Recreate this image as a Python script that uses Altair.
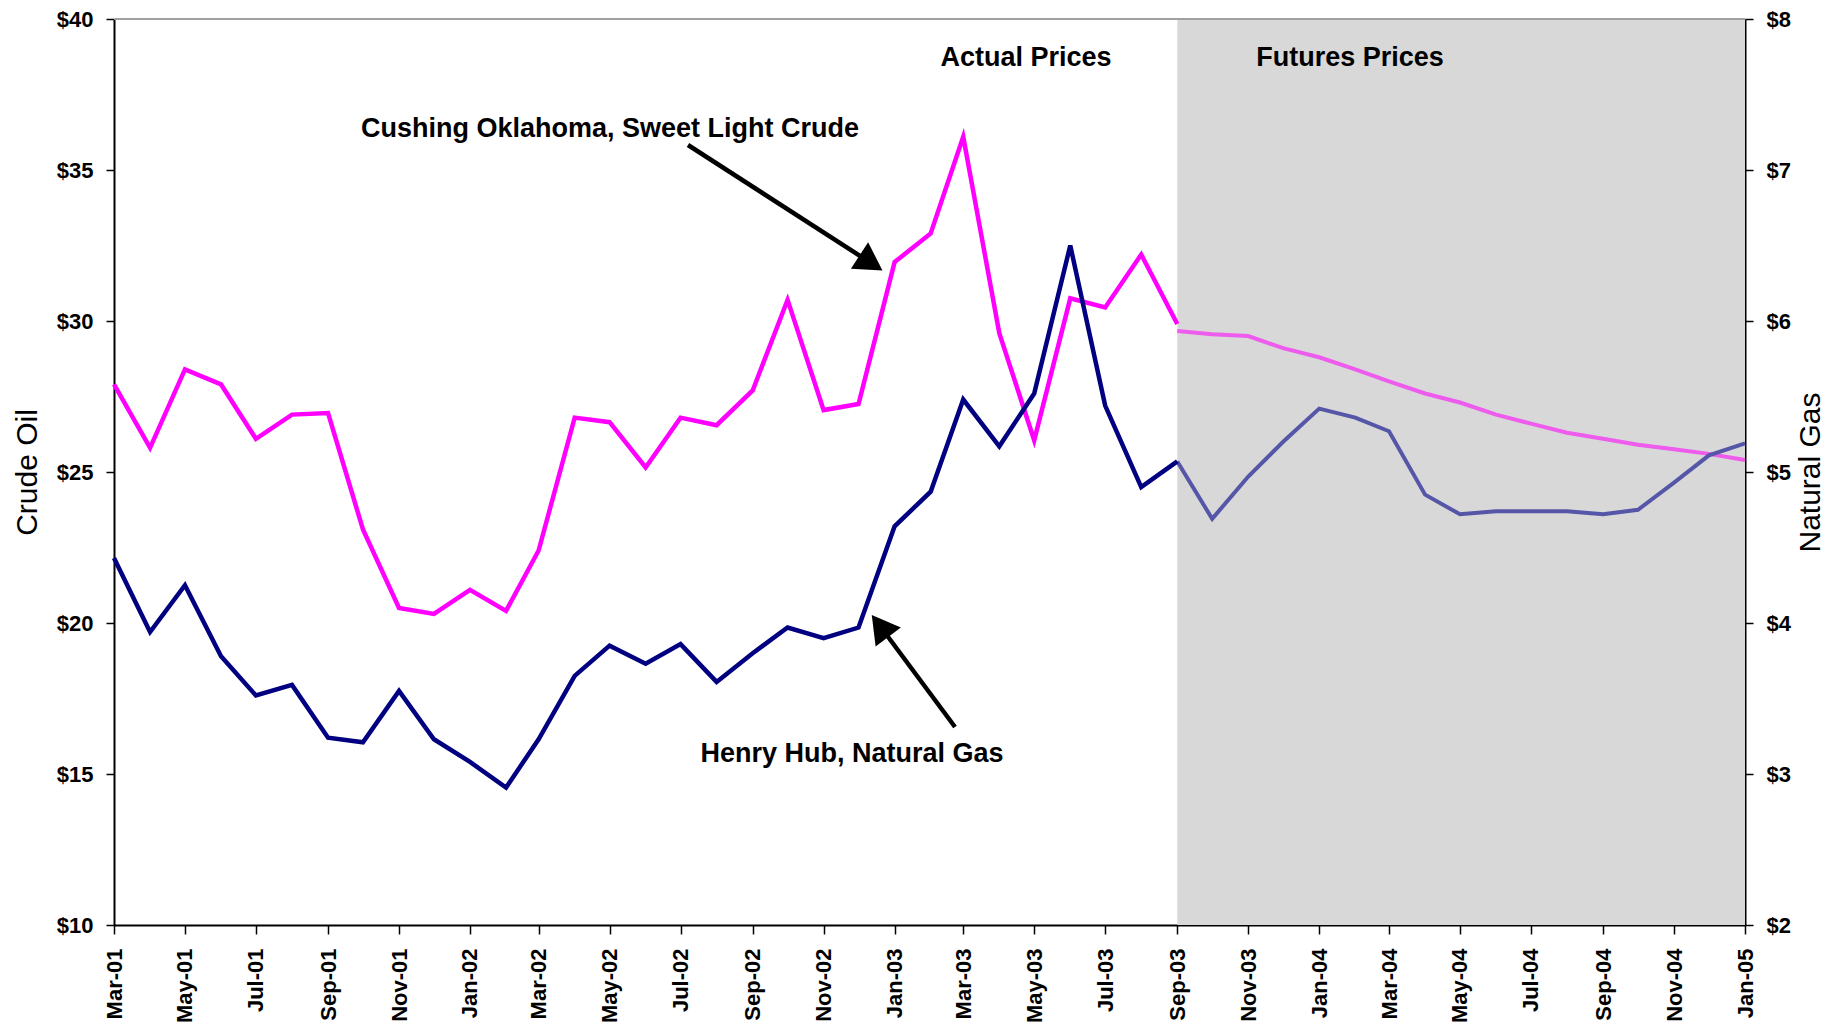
import altair as alt
import pandas as pd
from datetime import datetime

# ---------------- data ----------------
actual_dates = pd.date_range("2001-03-01", "2003-09-01", freq="MS").strftime("%Y-%m-%d").tolist()
futures_dates = pd.date_range("2003-09-01", "2005-01-01", freq="MS").strftime("%Y-%m-%d").tolist()

crude_actual = [27.9, 25.8, 28.4, 27.9, 26.1, 26.9, 26.95, 23.1, 20.5, 20.3,
                21.1, 20.4, 22.4, 26.8, 26.65, 25.15, 26.8, 26.55, 27.7, 30.7,
                27.05, 27.25, 31.95, 32.9, 36.1, 29.6, 26.05, 30.75, 30.45, 32.2,
                29.9]
gas_actual = [4.43, 3.94, 4.25, 3.78, 3.52, 3.59, 3.24, 3.21, 3.55, 3.23,
              3.08, 2.91, 3.23, 3.65, 3.85, 3.73, 3.86, 3.61, 3.80, 3.97,
              3.90, 3.97, 4.64, 4.87, 5.48, 5.17, 5.52, 6.50, 5.44, 4.90,
              5.07]
crude_futures = [29.67, 29.56, 29.5, 29.1, 28.8, 28.4, 28.0, 27.6, 27.3, 26.9,
                 26.6, 26.3, 26.1, 25.9, 25.75, 25.6, 25.4]
gas_futures = [5.07, 4.69, 4.97, 5.20, 5.42, 5.36, 5.27, 4.85, 4.72, 4.74,
               4.74, 4.74, 4.72, 4.75, 4.93, 5.11, 5.19]

tick_labels = ["Mar-01", "May-01", "Jul-01", "Sep-01", "Nov-01", "Jan-02",
               "Mar-02", "May-02", "Jul-02", "Sep-02", "Nov-02", "Jan-03",
               "Mar-03", "May-03", "Jul-03", "Sep-03", "Nov-03", "Jan-04",
               "Mar-04", "May-04", "Jul-04", "Sep-04", "Nov-04", "Jan-05"]
crude_ticks = [10, 15, 20, 25, 30, 35, 40]
gas_ticks = [2, 3, 4, 5, 6, 7, 8]
shade_period = ["2003-09-01", "2005-01-01"]
annotations = ["Actual Prices", "Futures Prices",
               "Cushing Oklahoma, Sweet Light Crude", "Henry Hub, Natural Gas"]

# ---------------- helpers ----------------
W, H = 1631, 906
FONT = "Liberation Sans"


def dt_from_iso(s):
    d = datetime.strptime(s, "%Y-%m-%d")
    return alt.DateTime(year=d.year, month=d.month, date=d.day, utc=True)


def dt_from_label(s):
    d = datetime.strptime(s, "%b-%y")
    return alt.DateTime(year=d.year, month=d.month, date=1, utc=True)


x_scale = alt.Scale(type="utc", domain=[dt_from_iso(actual_dates[0]), dt_from_iso(futures_dates[-1])])
x_axis = alt.Axis(values=[dt_from_label(t) for t in tick_labels], format="%b-%y",
                  labelAngle=270, title=None, tickSize=9, labelPadding=14,
                  labelFontSize=22, labelFontWeight="bold", labelOverlap=False,
                  labelFlush=False, grid=False)


def X(field="date"):
    return alt.X(f"{field}:T", scale=x_scale, axis=x_axis)


crude_axis = alt.Axis(orient="left", values=crude_ticks, format="$.0f", title="Crude Oil",
                      titleFontSize=30, titleFontWeight="normal", titlePadding=14,
                      tickSize=8, labelPadding=13, labelFontSize=22, labelFontWeight="bold",
                      grid=False)
gas_axis = alt.Axis(orient="right", values=gas_ticks, format="$.0f", title="Natural Gas",
                    titleFontSize=30, titleFontWeight="normal", titlePadding=5,
                    titleAngle=270, titleBaseline="top",
                    tickSize=8, labelPadding=13, labelFontSize=22, labelFontWeight="bold",
                    grid=False)

crude_y = alt.Y("value:Q", scale=alt.Scale(domain=[crude_ticks[0], crude_ticks[-1]], nice=False, zero=False),
                axis=crude_axis)
gas_y = alt.Y("value:Q", scale=alt.Scale(domain=[gas_ticks[0], gas_ticks[-1]], nice=False, zero=False),
              axis=gas_axis)

# ---------------- layers ----------------
shade_df = pd.DataFrame({"start": [shade_period[0]], "end": [shade_period[1]]})
shade = alt.Chart(shade_df).mark_rect(color="#d8d8d8").encode(
    x=X("start"), x2="end:T", y=alt.value(0), y2=alt.value(H)
)

crude_act_df = pd.DataFrame({"date": actual_dates, "value": crude_actual})
crude_fut_df = pd.DataFrame({"date": futures_dates, "value": crude_futures})
gas_act_df = pd.DataFrame({"date": actual_dates, "value": gas_actual})
gas_fut_df = pd.DataFrame({"date": futures_dates, "value": gas_futures})

crude_layer = alt.layer(
    alt.Chart(crude_fut_df).mark_line(color="#ee5cee", strokeWidth=4).encode(x=X(), y=crude_y),
    alt.Chart(crude_act_df).mark_line(color="#ff00ff", strokeWidth=4.5).encode(x=X(), y=crude_y),
)
gas_layer = alt.layer(
    alt.Chart(gas_fut_df).mark_line(color="#5656a8", strokeWidth=4).encode(x=X(), y=gas_y),
    alt.Chart(gas_act_df).mark_line(color="#000080", strokeWidth=4.5).encode(x=X(), y=gas_y),
)

one = pd.DataFrame({"k": [0]})
top_border = alt.Chart(one).mark_rule(color="#a0a0a0", strokeWidth=2).encode(
    x=alt.value(0), x2=alt.value(W), y=alt.value(0)
)


def label(text, px, py):
    df = pd.DataFrame({"label": [text]})
    return alt.Chart(df).mark_text(font=FONT, fontSize=27, fontWeight="bold", color="black",
                                   align="center", baseline="alphabetic").encode(
        text="label:N", x=alt.value(px), y=alt.value(py))


def arrow(x0, y0, hx, hy, ang):
    line = alt.Chart(one).mark_rule(color="black", strokeWidth=4.5).encode(
        x=alt.value(x0), y=alt.value(y0), x2=alt.value(hx), y2=alt.value(hy))
    head = alt.Chart(one).mark_point(shape="triangle-up", filled=True, color="black",
                                     opacity=1, size=1000, angle=ang).encode(
        x=alt.value(hx), y=alt.value(hy))
    return line + head


texts = alt.layer(
    label(annotations[0], 912, 47),
    label(annotations[1], 1236, 47),
    label(annotations[2], 496, 118),
    label(annotations[3], 738, 743),
)
arrows = alt.layer(
    arrow(574, 126, 757, 244, 123),
    arrow(841, 708, 766, 607, 323),
)

chart = alt.layer(
    shade, top_border, crude_layer, gas_layer, texts, arrows
).resolve_scale(y="independent").properties(
    width=W, height=H,
    padding={"left": 106, "top": 11, "right": 86, "bottom": 97},
    autosize=alt.AutoSizeParams(type="none"),
).configure_view(strokeWidth=0).configure_axis(
    domainColor="black", domainWidth=2, tickColor="black", tickWidth=1.5,
    labelColor="black", titleColor="black", labelFont=FONT, titleFont=FONT, zindex=1,
)

chart.save("out.html", embed_options={"renderer": "svg", "actions": False})
